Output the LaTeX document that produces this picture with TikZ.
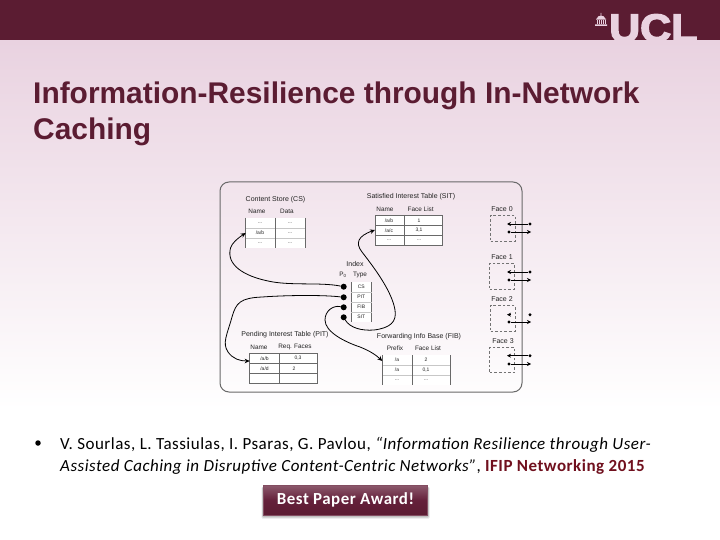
\documentclass[tikz,border=0pt]{standalone}
\usepackage{fontspec}
\setmainfont[LetterSpace=3.0]{Carlito}
\newfontfamily\arialf{Liberation Sans}
\newfontfamily\uclf[FakeBold=3.5]{Liberation Sans Bold}
\usetikzlibrary{arrows.meta}
\definecolor{ucl}{RGB}{91,28,50}
\definecolor{btn}{RGB}{100,32,58}
\definecolor{pale}{RGB}{233,210,224}
\definecolor{dk}{RGB}{35,35,35}
\definecolor{edgeg}{RGB}{105,105,105}
\definecolor{redt}{RGB}{112,16,30}
\tikzset{
 lab/.style={inner sep=0pt,text=dk,font=\arialf\fontsize{6.4}{7}\selectfont},
 ttl/.style={lab,font=\arialf\fontsize{7}{8}\selectfont},
 cell/.style={inner sep=0pt,text=dk,font=\arialf\fontsize{5}{6}\selectfont},
 tbl/.style={draw=edgeg,line width=.8pt,fill=white,inner sep=0pt},
 rowl/.style={draw=black!22,line width=.5pt},
 colg/.style={draw=edgeg,line width=.8pt},
 dotn/.style={circle,fill=black,inner sep=0pt,minimum size=6pt},
 sdot/.style={circle,fill=black,inner sep=0pt,minimum size=3.2pt},
 conn/.style={draw=black,line width=.8pt,-{Stealth[length=5pt,width=4.5pt]}},
 facebox/.style={draw=black!55,dashed,dash pattern=on 2.6pt off 2pt,line width=.8pt,inner sep=0pt,minimum width=24.5pt,minimum height=25.5pt},
 faceline/.style={draw=black,line width=.6pt},
 ftip/.style={-{Stealth[length=4pt,width=4pt]}},
 title/.style={inner sep=0pt,anchor=base west,text=ucl,font=\arialf\bfseries\fontsize{29.9}{30}\selectfont},
 body/.style={inner sep=0pt,anchor=base west,text=black,font=\fontsize{17}{18}\selectfont},
 shadowbit/.style={fill=black,opacity=.1},
}
\begin{document}
\begin{tikzpicture}[x=1pt,y=-1pt]
\useasboundingbox (0,0) rectangle (720,540);
\fill[white] (0,0) rectangle (720,540);
\shade[top color=pale,bottom color=white] (0,40) rectangle (720,410);
\fill[ucl] (0,0) rectangle (720,40);
% logo
\begin{scope}
\clip (0,0) rectangle (720,40);
\node[inner sep=0pt,anchor=base west,text=pale,font=\uclf\fontsize{39}{39}\selectfont,xscale=1.1] (logo) at (609,41.5) {UCL};
\end{scope}
\fill[pale] (595,26) rectangle (607,24.3) (596,19.6) rectangle (606,18.6)
 (597,18.3) .. controls (597,14.8) and (605,14.8) .. (605,18.3) -- cycle
 (600.6,15.5) rectangle (601.4,13);
\foreach \x in {596.6,598.6,600.6,602.6,604.6}{\fill[pale] (\x,20) rectangle (\x+1,24);}
% panel
\node[draw=edgeg,line width=1pt,rounded corners=9pt,inner sep=0pt,minimum width=302pt,minimum height=210pt] (panel) at (371,287) {};
% CS
\node[ttl] (csT) at (275.5,199.7) {Content Store (CS)};
\node[lab] (csN) at (257,211) {Name};
\node[lab] (csD) at (287,211) {Data};
\node[draw=none,fill=white,inner sep=0pt,minimum width=59.3pt,minimum height=30pt] (cs) at (275.3,233) {};
\draw[rowl] (245.7,228) -- (305,228) (245.7,238) -- (305,238);
\draw[colg] (cs.north west) -- (cs.south west) (275,218) -- (275,248) (cs.north east) -- (cs.south east);
\node[cell] (cs11) at (260,223) {...};\node[cell] (cs12) at (290,223) {...};
\node[cell] (cs21) at (260,233) {/a/b};\node[cell] (cs22) at (290,233) {...};
\node[cell] (cs31) at (260,243) {...};\node[cell] (cs32) at (290,243) {...};
% SIT
\node[ttl] (sitT) at (411,197) {Satisfied Interest Table (SIT)};
\node[lab] (sitN) at (385,209) {Name};
\node[lab] (sitF) at (420.7,209) {Face List};
\node[tbl,minimum width=67.7pt,minimum height=30.3pt] (sit) at (408.9,230.2) {};
\draw[colg] (375,225.3) -- (442.7,225.3) (375,235.3) -- (442.7,235.3) (404,215) -- (404,245.3);
\node[cell] (s11) at (389,220.3) {/a/b};\node[cell] (s12) at (419,220.3) {1};
\node[cell] (s21) at (389,230.3) {/a/c};\node[cell] (s22) at (419,230.3) {3,1};
\node[cell] (s31) at (389,240.3) {...};\node[cell] (s32) at (419,240.3) {...};
% Index
\node[ttl] (ixT) at (355,264) {Index};
\node[lab] (ixP) at (343,275) {P\textsubscript{0}};
\node[lab] (ixY) at (360,275) {Type};
\node[fill=white,inner sep=0pt,minimum width=20.7pt,minimum height=39.7pt] (ix) at (361.3,301.8) {};
\draw[colg] (351,282) -- (351,321.7) (371.7,282) -- (371.7,321.7);
\draw[rowl] (351,292) -- (371.7,292) (351,302) -- (371.7,302) (351,312) -- (371.7,312);
\node[cell] (ic) at (361.3,287) {CS};
\node[cell] (ip) at (361.3,297) {PIT};
\node[cell] (if) at (361.3,307) {FIB};
\node[cell] (is) at (361.3,317) {SIT};
\node[dotn] (p0) at (343.7,286.7) {};
\node[dotn] (p1) at (343.7,297.3) {};
\node[dotn] (p2) at (343.7,307.3) {};
\node[dotn] (p3) at (343.7,317.3) {};
% PIT
\node[ttl] (pitT) at (285,335) {Pending Interest Table (PIT)};
\node[lab] (pitN) at (259,347) {Name};
\node[lab] (pitF) at (295,347) {Req. Faces};
\node[tbl,minimum width=67.3pt,minimum height=30pt] (pit) at (283.4,368.3) {};
\draw[colg] (249.7,363.3) -- (317,363.3) (249.7,373.3) -- (317,373.3) (279.3,353.3) -- (279.3,383.3);
\node[cell] (pa) at (264.5,358.3) {/a/b};\node[cell] (pb) at (298,358.3) {0,3};
\node[cell] (pc) at (264.5,368.3) {/a/d};\node[cell] (pd) at (294,368.3) {2};
% FIB
\node[ttl] (fibT) at (419,336.7) {Forwarding Info Base (FIB)};
\node[lab] (fibN) at (395,348) {Prefix};
\node[lab] (fibF) at (428,348) {Face List};
\node[fill=white,inner sep=0pt,minimum width=68.4pt,minimum height=30pt] (fib) at (416.5,370) {};
\draw[rowl] (382.3,365) -- (450.7,365) (382.3,375) -- (450.7,375);
\draw[colg] (382.3,355) -- (382.3,385) (412.7,355) -- (412.7,385) (450.7,355) -- (450.7,385);
\node[cell] (fa) at (397,360) {/a};\node[cell] (fb) at (426,360) {2};
\node[cell] (fc) at (397,370) {/a};\node[cell] (fd) at (426,370) {0,1};
\node[cell] (fe) at (397,380) {...};\node[cell] (ff) at (426,380) {...};
% connectors
\coordinate (csin) at (245.7,233);
\coordinate (sitin) at (375,230);
\coordinate (pitin) at (249.7,361);
\coordinate (fibin) at (382.3,361);
\draw[conn] (p0) .. controls (320,282) and (290,286) .. (268,281)
  .. controls (244,276) and (226,265) .. (230.5,248)
  .. controls (232,243) and (238,238) .. (csin);
\draw[conn] (p3) .. controls (350,328) and (362,331) .. (374,330)
  .. controls (390,328) and (397,322) .. (395,310)
  .. controls (392,292) and (376,270) .. (362,252)
  .. controls (355,243) and (358,236) .. (sitin);
\draw[conn] (p1) .. controls (325,295) and (290,295) .. (262,297)
  .. controls (240,298) and (236,303) .. (232,317)
  .. controls (227,335) and (222,343) .. (228,352)
  .. controls (233,359) and (240,361) .. (pitin);
\draw[conn] (p2) .. controls (333,305) and (325,311) .. (325,320)
  .. controls (325,332) and (345,342) .. (360,347)
  .. controls (370,351) and (376,355) .. (fibin);
% faces
\node[ttl] (f0) at (502,209) {Face 0};
\node[facebox] (b0) at (502.8,228.2) {};
\node[ttl] (f1) at (502,257) {Face 1};
\node[facebox] (b1) at (502,276.3) {};
\node[ttl] (f2) at (502,299) {Face 2};
\node[facebox] (b2) at (502.8,318.3) {};
\node[ttl] (f3) at (503,341) {Face 3};
\node[facebox] (b3) at (502,360) {};
\foreach \n/\ya/\yb in {0/224/232,1/272/280,2/314.7/322,3/355.7/364}{
 \node[sdot] (d\n) at (509,\yb) {};
 \node[sdot] (e\n) at (530,\ya) {};
 \coordinate (tl\n) at (507,\ya);
 \coordinate (tr\n) at (531,\yb);
}
\draw[faceline,ftip] (e0) -- (tl0);
\draw[faceline,ftip] (d0) -- (tr0);
\draw[faceline,ftip] (e1) -- (tl1);
\draw[faceline,ftip] (d1) -- (tr1);
\coordinate (st2) at (511,314.7);
\draw[faceline,ftip] (st2) -- (tl2);
\draw[faceline,ftip] (d2) -- (tr2);
\draw[faceline,ftip] (e3) -- (tl3);
\draw[faceline,ftip] (d3) -- (tr3);
% title
\node[title] (t1) at (33,104) {Information-Resilience through In-Network};
\node[title] (t2) at (33,140) {Caching};
% body
\node[circle,fill=black,inner sep=0pt,minimum size=5.5pt] (bul) at (38,443) {};
\node[body] (l1) at (60,449) {V. Sourlas, L. Tassiulas, I. Psaras, G. Pavlou, \textit{“Information Resilience through User-}};
\node[body] (l2) at (60,471) {\textit{Assisted Caching in Disruptive Content-Centric Networks”}, \textcolor{redt}{\textbf{IFIP Networking 2015}}};
% button shadow
\foreach \d in {0,1,2,3}{
 \fill[shadowbit,rounded corners=1pt] (263.3-\d*.6,487) rectangle (427.7+\d*.6,515.5+\d);
}
% button
\node[inner sep=0pt,minimum width=164.4pt,minimum height=29.3pt,draw=btn!80,line width=.8pt,top color=btn!75,bottom color=ucl,middle color=btn,text=white,font=\bfseries\fontsize{16.9}{18}\selectfont] (award) at (345.5,500.3) {Best Paper Award!};
\end{tikzpicture}
\end{document}
